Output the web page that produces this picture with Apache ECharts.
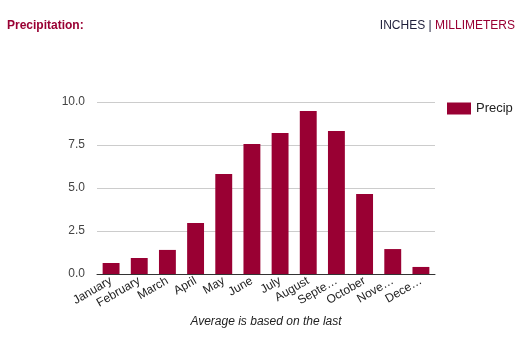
<!DOCTYPE html>
<html><head><meta charset="utf-8">
<script src="https://cdn.jsdelivr.net/npm/echarts@6/dist/echarts.min.js"></script>
<style>html,body{margin:0;padding:0;background:#fff}#c{width:532px;height:337px}</style>
</head><body><div id="c"></div>
<script>
const months = ["January","February","March","April","May","June","July","August","September","October","November","December"];
const monthLabels = ["January","February","March","April","May","June","July","August","Septe…","October","Nove…","Dece…"];
const precip = [0.64, 0.93, 1.40, 2.97, 5.81, 7.56, 8.20, 9.48, 8.31, 4.65, 1.45, 0.41];
const yTicks = [0, 2.5, 5, 7.5, 10];

const chart = echarts.init(document.getElementById('c'), null, {renderer:'canvas'});
const FONT = 'Liberation Sans, Arial, sans-serif';
chart.setOption({
  animation:false,
  textStyle:{fontFamily:FONT},
  title:[
    {text:'Precipitation:', left:2, top:15, textStyle:{fontSize:12, fontWeight:'bold', color:'#990033', fontFamily:FONT}},
    {text:'{a|INCHES | }{b|MILLIMETERS}', right:12, top:15,
     textStyle:{fontWeight:'normal', rich:{a:{fontSize:12,fontWeight:'normal',color:'#1f1f3a',fontFamily:FONT},b:{fontSize:12,fontWeight:'normal',color:'#990033',fontFamily:FONT}}}}
  ],
  legend:{data:['Precip'], left:442, top:97, itemWidth:24, itemHeight:12, itemGap:6, icon:'rect',
    textStyle:{fontSize:13, color:'#222', fontFamily:FONT}},
  grid:{left:97, right:97, top:102, bottom:63, containLabel:false},
  xAxis:{type:'category', data:months,
    name:'Average is based on the last', nameLocation:'middle', nameGap:42,
    nameTextStyle:{fontSize:12, fontStyle:'italic', color:'#222', fontFamily:FONT},
    axisLine:{lineStyle:{color:'#333', width:1}}, axisTick:{show:false},
    axisLabel:{rotate:30, interval:0, fontSize:12, color:'#222', margin:6, fontFamily:FONT,
      formatter:(v,i)=>monthLabels[i]}},
  yAxis:{type:'value', min:0, max:10, interval:2.5,
    axisLine:{show:false}, axisTick:{show:false},
    splitLine:{lineStyle:{color:'#cccccc'}},
    axisLabel:{fontSize:12, color:'#444', margin:12, fontFamily:FONT, formatter:v=>v.toFixed(1)}},
  series:[{name:'Precip', type:'bar', data:precip, barCategoryGap:'40%',
    itemStyle:{color:'#990033'}}]
});
</script></body></html>
